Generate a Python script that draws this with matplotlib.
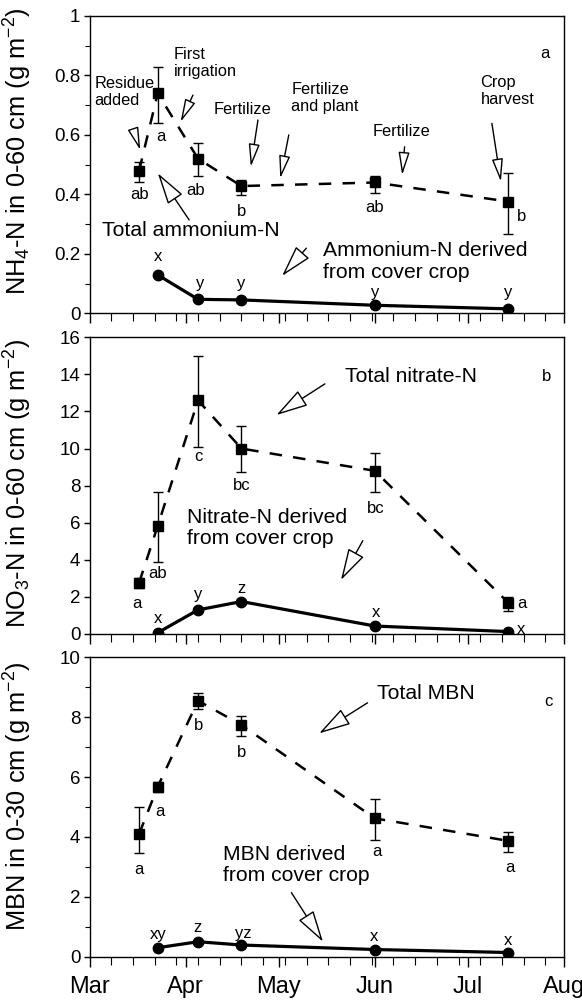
import numpy as np
import matplotlib
matplotlib.use("Agg")
import matplotlib.pyplot as plt
import matplotlib.dates as mdates
from matplotlib.ticker import MultipleLocator, FuncFormatter, FixedLocator

plt.rcParams['font.family'] = ['Liberation Sans', 'DejaVu Sans']
plt.rcParams['mathtext.fontset'] = 'custom'
plt.rcParams['mathtext.rm'] = 'Liberation Sans'
plt.rcParams['mathtext.it'] = 'Liberation Sans:italic'

# sampling dates (total pools measured from Mar 17, cover-crop N from Mar 23)
dates_total = np.array(['2001-03-17', '2001-03-23', '2001-04-05',
                        '2001-04-19', '2001-06-01', '2001-07-14'], dtype='datetime64[D]')
dates_cc = dates_total[1:]

# (a) ammonium-N, 0-60 cm
nh4_total = [0.48, 0.74, 0.52, 0.428, 0.44, 0.376]
nh4_lo = [0.44, 0.64, 0.462, 0.398, 0.406, 0.266]
nh4_hi = [0.51, 0.83, 0.572, 0.448, 0.463, 0.472]
nh4_cc = [0.129, 0.047, 0.045, 0.027, 0.015]
nh4_total_let = ['ab', 'a', 'ab', 'b', 'ab', 'b']
nh4_cc_let = ['x', 'y', 'y', 'y', 'y']

# (b) nitrate-N, 0-60 cm
no3_total = [2.77, 5.83, 12.6, 10.0, 8.8, 1.69]
no3_lo = [2.46, 3.9, 10.1, 8.76, 7.68, 1.26]
no3_hi = [3.0, 7.68, 15.0, 11.2, 9.78, 2.0]
no3_cc = [0.07, 1.3, 1.75, 0.43, 0.13]
no3_total_let = ['a', 'ab', 'c', 'bc', 'bc', 'a']
no3_cc_let = ['x', 'y', 'z', 'x', 'x']

# (c) microbial biomass N, 0-30 cm
mbn_total = [4.1, 5.68, 8.55, 7.74, 4.62, 3.87]
mbn_lo = [3.45, 5.5, 8.26, 7.37, 3.9, 3.5]
mbn_hi = [5.0, 5.85, 8.82, 8.04, 5.27, 4.18]
mbn_cc = [0.30, 0.50, 0.39, 0.24, 0.14]
mbn_total_let = ['a', 'a', 'b', 'b', 'a', 'a']
mbn_cc_let = ['xy', 'z', 'yz', 'x', 'x']

# letter offsets in pixels (dx, dy) relative to the marker
off_a_tot = [(0, -24), (3, -43), (-2, -32), (0, -25), (0, -25), (13, -15)]
off_a_cc = [(0, 18), (2, 16), (0, 16), (0, 13), (0, 16)]
off_b_tot = [(-2, -21), (0, -48), (0, -56), (0, -37), (1, -38), (14, -1)]
off_b_cc = [(0, 14), (0, 15), (0, 13), (1, 14), (13, 2)]
off_c_tot = [(0, -36), (2, -25), (1, -25), (0, -28), (2, -33), (2, -27)]
off_c_cc = [(0, 13), (-1, 14), (2, 12), (-1, 13), (0, 12)]

fig = plt.figure(figsize=(5.82, 10.02), dpi=100)
left, width = 89.5 / 582, 474.5 / 582
ax_a = fig.add_axes([left, 1 - 313.3 / 1002, width, 297.3 / 1002])
ax_b = fig.add_axes([left, 1 - 634 / 1002, width, 296.7 / 1002])
ax_c = fig.add_axes([left, 1 - 956.7 / 1002, width, 299.4 / 1002])

px = 0.72  # points per pixel at 100 dpi


def draw_panel(ax, tot, lo, hi, cc, tot_let, cc_let, off_tot, off_cc):
    tot = np.array(tot)
    yerr = [tot - np.array(lo), np.array(hi) - tot]
    ax.errorbar(dates_total, tot, yerr=yerr, fmt='none', ecolor='black',
                elinewidth=1, capsize=3.8, capthick=1, zorder=2)
    ax.plot(dates_total, tot, color='black', lw=1.8, ls=(0, (5, 4.5)),
            marker='s', ms=7.3, mfc='black', mec='black', zorder=3)
    ax.plot(dates_cc, cc, color='black', lw=2.3, ls='-',
            marker='o', ms=7.5, mfc='black', mec='black', zorder=3)
    for d, v, t, (dx, dy) in zip(dates_total, tot, tot_let, off_tot):
        ax.annotate(t, (d, v), xytext=(dx * px, dy * px), textcoords='offset points',
                    ha='center', va='center', fontsize=12)
    for d, v, t, (dx, dy) in zip(dates_cc, cc, cc_let, off_cc):
        ax.annotate(t, (d, v), xytext=(dx * px, dy * px), textcoords='offset points',
                    ha='center', va='center', fontsize=12)


def arrow(ax, tail, head, big=False):
    if big:
        style = '-|>,head_length=1.0,head_width=0.28'
    else:
        style = '-|>,head_length=0.7,head_width=0.17'
    ax.annotate('', xy=head, xytext=tail, xycoords='axes fraction',
                textcoords='axes fraction',
                arrowprops=dict(arrowstyle=style, mutation_scale=20, fc='white',
                                ec='black', lw=1, shrinkA=0, shrinkB=0))


def note(ax, x, y, s, size):
    ax.text(x, y, s, transform=ax.transAxes, ha='left', va='center',
            fontsize=size, linespacing=1.15)


draw_panel(ax_a, nh4_total, nh4_lo, nh4_hi, nh4_cc, nh4_total_let, nh4_cc_let, off_a_tot, off_a_cc)
draw_panel(ax_b, no3_total, no3_lo, no3_hi, no3_cc, no3_total_let, no3_cc_let, off_b_tot, off_b_cc)
draw_panel(ax_c, mbn_total, mbn_lo, mbn_hi, mbn_cc, mbn_total_let, mbn_cc_let, off_c_tot, off_c_cc)

# panel a notes
small = 11.8
big = 15.2
note(ax_a, 0.011, 0.745, 'Residue\nadded', small)
arrow(ax_a, (0.094, 0.611), (0.107, 0.549))
note(ax_a, 0.178, 0.842, 'First\nirrigation', small)
arrow(ax_a, (0.218, 0.734), (0.192, 0.644))
note(ax_a, 0.261, 0.684, 'Fertilize', small)
arrow(ax_a, (0.355, 0.650), (0.340, 0.493))
note(ax_a, 0.4255, 0.723, 'Fertilize\nand plant', small)
arrow(ax_a, (0.420, 0.600), (0.402, 0.454))
note(ax_a, 0.5975, 0.611, 'Fertilize', small)
arrow(ax_a, (0.664, 0.560), (0.659, 0.465))
note(ax_a, 0.824, 0.748, 'Crop\nharvest', small)
arrow(ax_a, (0.848, 0.639), (0.867, 0.443))
note(ax_a, 0.026, 0.280, 'Total ammonium-N', big)
arrow(ax_a, (0.210, 0.314), (0.144, 0.471), big=True)
note(ax_a, 0.492, 0.174, 'Ammonium-N derived\nfrom cover crop', big)
arrow(ax_a, (0.457, 0.219), (0.406, 0.126), big=True)
note(ax_a, 0.95, 0.875, 'a', 12)

# panel b notes
note(ax_b, 0.539, 0.867, 'Total nitrate-N', big)
arrow(ax_b, (0.496, 0.843), (0.394, 0.738), big=True)
note(ax_b, 0.2065, 0.356, 'Nitrate-N derived\nfrom cover crop', big)
arrow(ax_b, (0.576, 0.3145), (0.530, 0.182), big=True)
note(ax_b, 0.954, 0.867, 'b', 12)

# panel c notes
note(ax_c, 0.6055, 0.880, 'Total MBN', big)
arrow(ax_c, (0.586, 0.848), (0.484, 0.746), big=True)
note(ax_c, 0.281, 0.306, 'MBN derived\nfrom cover crop', big)
arrow(ax_c, (0.4255, 0.214), (0.492, 0.050), big=True)
note(ax_c, 0.958, 0.852, 'c', 12)

# axes styling
weeks = mdates.date2num(np.arange(np.datetime64('2001-03-01'), np.datetime64('2001-08-02'), 7))
for ax in (ax_a, ax_b, ax_c):
    ax.set_xlim(np.datetime64('2001-03-01'), np.datetime64('2001-08-01'))
    ax.xaxis.set_major_locator(mdates.MonthLocator())
    ax.xaxis.set_major_formatter(mdates.DateFormatter('%b'))
    ax.xaxis.set_minor_locator(FixedLocator(weeks))
    ax.tick_params(axis='x', which='major', direction='out', length=7, width=1,
                   labelsize=17, pad=7)
    ax.tick_params(axis='x', which='minor', direction='out', length=6, width=0.8)
    ax.tick_params(axis='y', which='major', direction='out', length=4.5, width=1,
                   labelsize=13.5, pad=2)
    ax.tick_params(axis='y', which='minor', direction='out', length=3.5, width=0.8)
    for sp in ax.spines.values():
        sp.set_linewidth(1)

ax_a.tick_params(axis='x', labelbottom=False)
ax_b.tick_params(axis='x', labelbottom=False)

ax_a.set_ylim(0, 1)
ax_a.yaxis.set_major_locator(MultipleLocator(0.2))
ax_a.yaxis.set_minor_locator(MultipleLocator(0.1))
ax_a.yaxis.set_major_formatter(FuncFormatter(lambda v, p: '%g' % round(v, 2)))
ax_b.set_ylim(0, 16)
ax_b.yaxis.set_major_locator(MultipleLocator(2))
ax_c.set_ylim(0, 10)
ax_c.yaxis.set_major_locator(MultipleLocator(2))
ax_c.yaxis.set_minor_locator(MultipleLocator(1))

ax_a.set_ylabel(r'NH$_4$-N in 0-60 cm (g m$^{-2}$)', fontsize=18.3)
ax_b.set_ylabel(r'NO$_3$-N in 0-60 cm (g m$^{-2}$)', fontsize=18.3)
ax_c.set_ylabel(r'MBN in 0-30 cm (g m$^{-2}$)', fontsize=18.3)
ax_a.yaxis.set_label_coords(-0.118, 0.546)
ax_b.yaxis.set_label_coords(-0.118, 0.509)
ax_c.yaxis.set_label_coords(-0.118, 0.537)

fig.savefig('out.png', dpi=100)
